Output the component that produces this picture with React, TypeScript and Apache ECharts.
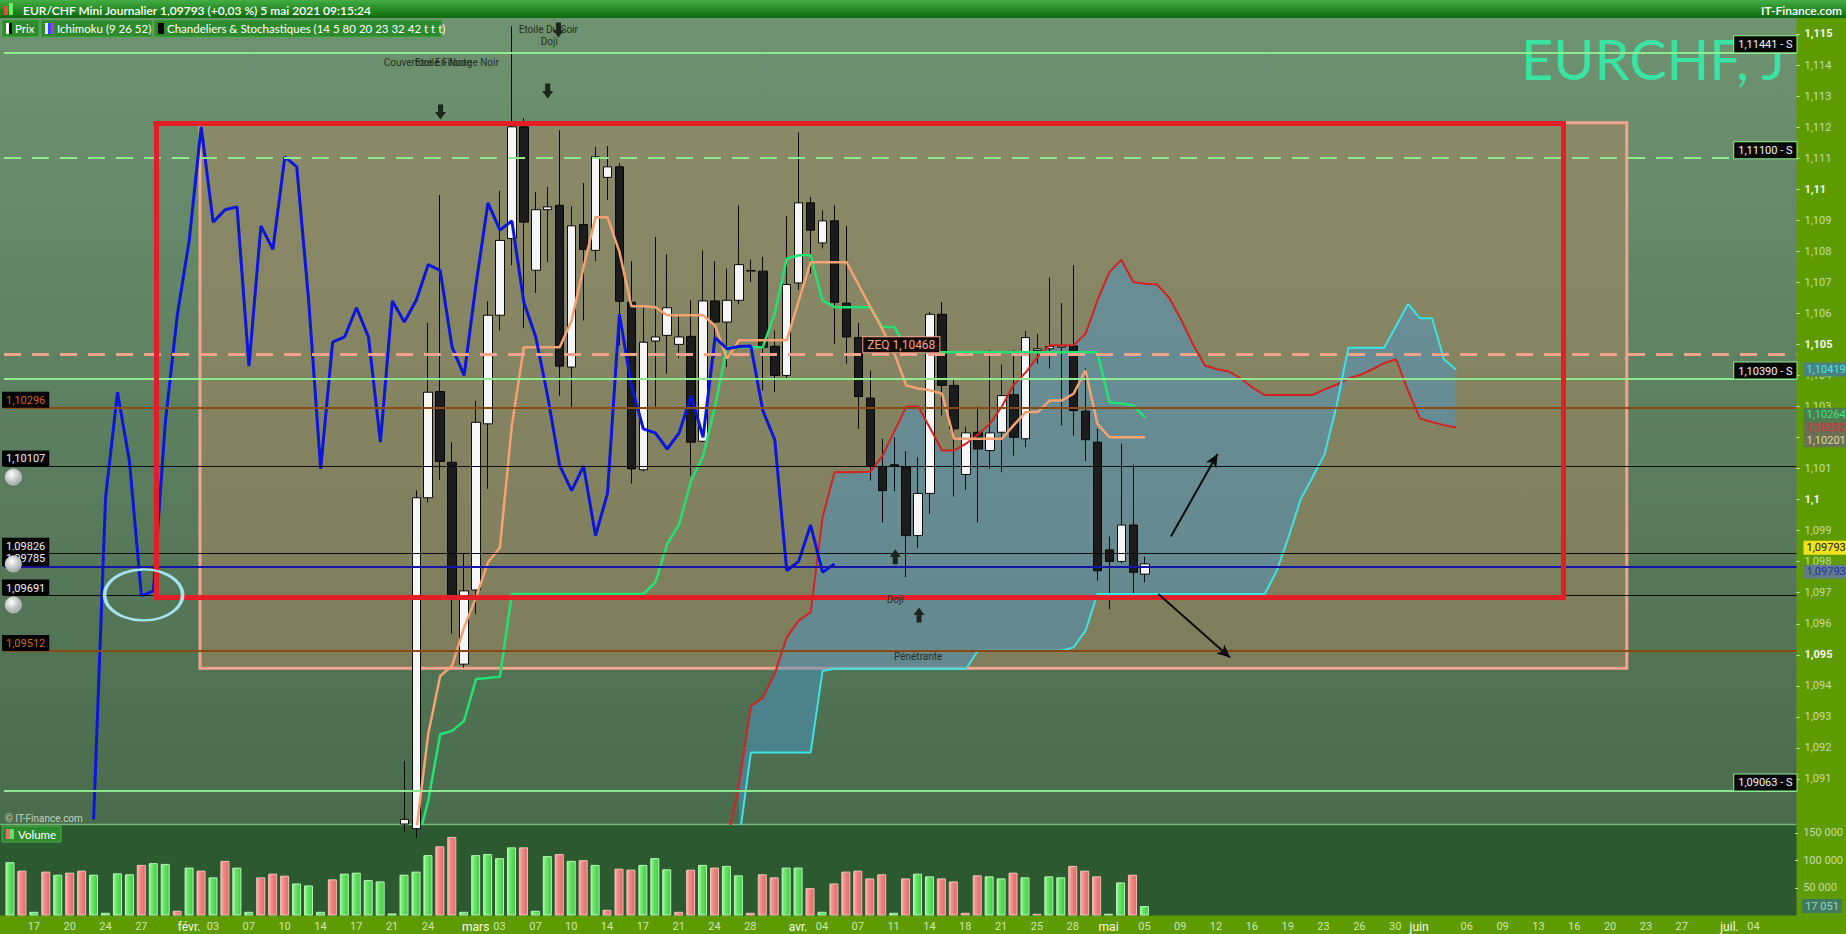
'use client';
import React, { useEffect, useRef } from 'react';
import * as echarts from 'echarts';

// trading days on the axis (Sunday to Friday, Saturdays skipped)
const categories: string[] = [];
for (let t = Date.UTC(2021, 0, 14); t <= Date.UTC(2021, 6, 7); t += 86400000) {
  const d = new Date(t);
  if (d.getUTCDay() !== 6) categories.push(d.toISOString().slice(0, 10));
}

const dateTicks: [string, string][] = [
  ['2021-01-17', '17'], ['2021-01-20', '20'], ['2021-01-24', '24'], ['2021-01-27', '27'],
  ['2021-02-01', 'févr.'], ['2021-02-03', '03'], ['2021-02-07', '07'], ['2021-02-10', '10'], ['2021-02-14', '14'],
  ['2021-02-17', '17'], ['2021-02-21', '21'], ['2021-02-24', '24'],
  ['2021-03-01', 'mars'], ['2021-03-03', '03'], ['2021-03-07', '07'], ['2021-03-10', '10'], ['2021-03-14', '14'],
  ['2021-03-17', '17'], ['2021-03-21', '21'], ['2021-03-24', '24'], ['2021-03-28', '28'],
  ['2021-04-01', 'avr.'], ['2021-04-04', '04'], ['2021-04-07', '07'], ['2021-04-11', '11'], ['2021-04-14', '14'],
  ['2021-04-18', '18'], ['2021-04-21', '21'], ['2021-04-25', '25'], ['2021-04-28', '28'],
  ['2021-05-02', 'mai'], ['2021-05-05', '05'], ['2021-05-09', '09'], ['2021-05-12', '12'], ['2021-05-16', '16'],
  ['2021-05-19', '19'], ['2021-05-23', '23'], ['2021-05-26', '26'], ['2021-05-30', '30'],
  ['2021-06-01', 'juin'], ['2021-06-06', '06'], ['2021-06-09', '09'], ['2021-06-13', '13'], ['2021-06-16', '16'],
  ['2021-06-20', '20'], ['2021-06-23', '23'], ['2021-06-27', '27'],
  ['2021-07-01', 'juil.'], ['2021-07-04', '04'],
];

const priceTicks = [
  1.091, 1.092, 1.093, 1.094, 1.095, 1.096, 1.097, 1.098, 1.099, 1.1, 1.101, 1.102, 1.103,
  1.104, 1.105, 1.106, 1.107, 1.108, 1.109, 1.11, 1.111, 1.112, 1.113, 1.114, 1.115,
];
const volumeTicks = [50000, 100000, 150000];

// daily candles from 22 Feb: open, high, low, close (earlier sessions sit below the visible range)
const candleStart = '2021-02-22';
const ohlc: [number, number, number, number][] = [
  [1.08955, 1.09158, 1.0893, 1.0897], [1.0894, 1.1003, 1.0891, 1.10006], [1.10006, 1.10569, 1.09991, 1.10346],
  [1.10348, 1.10981, 1.10064, 1.10123], [1.1012, 1.10185, 1.09568, 1.0969], [1.0947, 1.09826, 1.09459, 1.09706],
  [1.09709, 1.10319, 1.09632, 1.10249], [1.10244, 1.10639, 1.10035, 1.10594], [1.10594, 1.10995, 1.10545, 1.10835],
  [1.10841, 1.11525, 1.10755, 1.11201], [1.11201, 1.11229, 1.10552, 1.10894], [1.10739, 1.10991, 1.10666, 1.10934],
  [1.10934, 1.11007, 1.10765, 1.10943], [1.10948, 1.1119, 1.10335, 1.1043], [1.10427, 1.10945, 1.103, 1.10882],
  [1.10886, 1.1102, 1.10577, 1.10806], [1.10803, 1.11136, 1.10769, 1.11104], [1.11038, 1.11139, 1.10965, 1.11072],
  [1.11072, 1.11084, 1.10497, 1.10639], [1.10636, 1.10768, 1.10052, 1.10099], [1.10096, 1.1062, 1.10091, 1.10507],
  [1.10511, 1.10846, 1.103, 1.10524], [1.10529, 1.1079, 1.10405, 1.10618], [1.105, 1.10599, 1.10457, 1.10524],
  [1.10526, 1.10642, 1.10077, 1.10185], [1.10188, 1.10803, 1.10185, 1.1064], [1.1064, 1.10768, 1.10459, 1.10572],
  [1.10572, 1.10744, 1.10427, 1.10642], [1.10642, 1.10948, 1.10629, 1.10757], [1.10736, 1.10773, 1.10701, 1.10738],
  [1.10736, 1.10782, 1.10352, 1.10491], [1.10494, 1.10545, 1.10346, 1.104], [1.104, 1.10913, 1.10385, 1.10693],
  [1.10698, 1.11183, 1.10676, 1.10956], [1.10956, 1.10975, 1.10728, 1.10868], [1.10827, 1.10932, 1.10809, 1.10898],
  [1.10898, 1.10948, 1.10502, 1.10636], [1.10633, 1.10881, 1.10438, 1.10524], [1.10522, 1.10569, 1.10228, 1.10332],
  [1.10327, 1.10416, 1.10061, 1.1011], [1.10107, 1.10196, 1.09927, 1.10029], [1.10112, 1.10201, 1.10027, 1.10108],
  [1.10104, 1.10156, 1.0975, 1.09884], [1.09884, 1.10136, 1.09844, 1.1002], [1.1002, 1.10604, 1.09954, 1.10597],
  [1.10597, 1.10636, 1.10271, 1.10368], [1.10368, 1.1039, 1.1001, 1.10228], [1.10081, 1.10235, 1.10031, 1.10215],
  [1.10217, 1.103, 1.09927, 1.10163], [1.10158, 1.10481, 1.10099, 1.10215], [1.10217, 1.10435, 1.10088, 1.10335],
  [1.10338, 1.10481, 1.10142, 1.10201], [1.10196, 1.10543, 1.10169, 1.10522], [1.10481, 1.10534, 1.10438, 1.10486],
  [1.10486, 1.10715, 1.10422, 1.10493], [1.10491, 1.10633, 1.10239, 1.10495], [1.10495, 1.10755, 1.10206, 1.10287],
  [1.10285, 1.10422, 1.10124, 1.10193], [1.10185, 1.10228, 1.09739, 1.09771], [1.09838, 1.09881, 1.09647, 1.09801],
  [1.09801, 1.1018, 1.09795, 1.09918], [1.09918, 1.10113, 1.09696, 1.09766], [1.0976, 1.09816, 1.09733, 1.09793],
];

// Ichimoku (9 26 52)
const ichimokuStart = '2021-02-22';
const tenkan = [
  1.088, 1.0893, 1.09245, 1.09432, 1.09465, 1.09588, 1.09685, 1.09798, 1.09846, 1.1024,
  1.10491, 1.10491, 1.10491, 1.10491, 1.10577, 1.10749, 1.1091, 1.1091, 1.10798, 1.10623,
  1.10623, 1.1062, 1.10594, 1.10594, 1.10594, 1.10594, 1.10561, 1.10454, 1.10513, 1.10513,
  1.10513, 1.10513, 1.10513, 1.1064, 1.10765, 1.10765, 1.10765, 1.10765, 1.10693, 1.1062,
  1.10549, 1.10471, 1.10368, 1.10358, 1.10352, 1.10341, 1.10196, 1.10196, 1.10196, 1.10196,
  1.10196, 1.1024, 1.10282, 1.10282, 1.10319, 1.10319, 1.10341, 1.10416, 1.10244, 1.10201,
  1.10201, 1.10201, 1.10201,
];
const kijun = [
  1.088, 1.0888, 1.0903, 1.09244, 1.09255, 1.09287, 1.09422, 1.09425, 1.09429, 1.09696,
  1.09696, 1.09696, 1.09696, 1.09696, 1.09696, 1.09696, 1.09696, 1.09696, 1.09696, 1.09696,
  1.09696, 1.09733, 1.09857, 1.09921, 1.10061, 1.1014, 1.103, 1.10491, 1.10491, 1.10491,
  1.10491, 1.106, 1.10776, 1.10787, 1.10787, 1.10642, 1.1062, 1.1062, 1.1062, 1.1062,
  1.10556, 1.10556, 1.1049, 1.10475, 1.10475, 1.10475, 1.10475, 1.10475, 1.10475, 1.10475,
  1.10475, 1.10475, 1.10475, 1.10475, 1.10475, 1.10475, 1.10475, 1.10475, 1.10475, 1.10314,
  1.1031, 1.10303, 1.10264,
];
const senkouAStart = '2021-03-25';
const senkouA = [
  1.089, 1.0908, 1.09335, 1.09362, 1.0944, 1.09556, 1.0961, 1.09637, 1.09943, 1.10088,
  1.10088, 1.10089, 1.1009, 1.1014, 1.1022, 1.103, 1.103, 1.1023, 1.10158, 1.10158,
  1.1018, 1.1021, 1.10244, 1.103, 1.1037, 1.1041, 1.1046, 1.10497, 1.10497, 1.10497,
  1.10534, 1.10642, 1.10733, 1.10773, 1.10701, 1.10695, 1.10693, 1.1065, 1.1058, 1.105,
  1.10432, 1.1042, 1.10413, 1.1039, 1.1036, 1.10337, 1.10337, 1.10337, 1.10337, 1.10337,
  1.10355, 1.1037, 1.1039, 1.10402, 1.1042, 1.1044, 1.10452, 1.1035, 1.10261, 1.1025,
  1.1024, 1.10232,
];
const senkouBStart = '2021-03-26';
const senkouB = [
  1.089, 1.09185, 1.09185, 1.09185, 1.09185, 1.09185, 1.09185, 1.09448, 1.09455, 1.09455,
  1.09455, 1.09455, 1.09455, 1.09455, 1.09455, 1.09455, 1.09455, 1.09455, 1.09455, 1.09455,
  1.09513, 1.09513, 1.09513, 1.09513, 1.09513, 1.09513, 1.09513, 1.09513, 1.09524, 1.09577,
  1.09696, 1.09696, 1.09696, 1.09696, 1.09696, 1.09696, 1.09696, 1.09696, 1.09696, 1.09696,
  1.09696, 1.09696, 1.09696, 1.09696, 1.09696, 1.0977, 1.0988, 1.1, 1.10072, 1.10145,
  1.103, 1.10489, 1.10489, 1.10489, 1.10489, 1.1056, 1.1063, 1.10584, 1.10584, 1.10452,
  1.10419,
];

// volume from 14 Jan, g = up day, r = down day
const volumeStart = '2021-01-14';
const volumes = [
  96700, 81400, 6700, 79600, 74000, 77700, 81400, 74000, 4900, 76500,
  74700, 91800, 94900, 93600, 8600, 86900, 81400, 69200, 99100, 86900,
  6700, 69200, 75900, 72200, 58100, 54500, 6700, 65500, 75900, 77700,
  64300, 61800, 3700, 74000, 79600, 109500, 125500, 142600, 6700, 109500,
  111400, 104000, 123600, 123600, 8600, 107700, 111400, 99100, 100400, 91800,
  10400, 85000, 83200, 91800, 104000, 83800, 6700, 83200, 91800, 86900,
  90000, 72800, 4900, 74700, 69200, 86900, 86900, 49600, 6700, 58100,
  79600, 81400, 67300, 74700, 4900, 67300, 75900, 71000, 67300, 61800,
  4900, 72800, 71000, 67300, 77700, 69200, 3100, 71000, 69200, 90000,
  81400, 71000, 3100, 60000, 74000, 17051,
];
const volumeDirs = ('grgrgrrggg' + 'grggrgrgrg' + 'grrrgggrgg' + 'ggggggrrgg' + 'gggrggrgrg' +
  'rrrgggrrgr' + 'ggrrrggrgr' + 'rrrrgrggrr' + 'rrggrgrggr' + 'rrggrg').split('');

// horizontal levels drawn on the chart
const supportLevels = [1.11441, 1.111, 1.1039, 1.09063];
const zeqLevel = 1.10468;
const brownLevels = [1.10296, 1.09512];
const alertLevels = [1.10107, 1.09826, 1.09691];
const blueLevel = 1.09785;

const FONT = 'Roboto, "Noto Sans", sans-serif';
const Y_MIN = 1.08955;
const Y_MAX = 1.115515;

const fmt5 = (v: number) => v.toFixed(5).replace('.', ',');
const fmtTick = (v: number) => String(parseFloat(v.toFixed(3))).replace('.', ',');
const fmtVol = (v: number) => `${Math.floor(v / 1000)} ${String(v % 1000).padStart(3, '0')}`;

function place(start: string, vals: number[]) {
  const out: (number | null)[] = categories.map(() => null);
  const s = categories.indexOf(start);
  vals.forEach((v, i) => { if (s + i < out.length) out[s + i] = v; });
  return out;
}

function buildOption() {
  const tickMap = new Map(dateTicks);
  const cStart = categories.indexOf(candleStart);
  const candles: any[] = categories.map(() => '-');
  ohlc.forEach(([o, h, l, c], i) => { candles[cStart + i] = [o, c, l, h]; });
  const closes = place(candleStart, ohlc.map((c) => c[3]));
  const chikou = categories.map((_, i) => closes[i + 26] ?? null);
  const tk = place(ichimokuStart, tenkan);
  const kj = place(ichimokuStart, kijun);
  const sa = place(senkouAStart, senkouA);
  const sb = place(senkouBStart, senkouB);
  const cloudBase = categories.map((_, i) => (sa[i] != null && sb[i] != null ? Math.min(sa[i]!, sb[i]!) : null));
  const cloudBand = categories.map((_, i) => (sa[i] != null && sb[i] != null ? Math.abs(sa[i]! - sb[i]!) : null));
  const vols = place(volumeStart, volumes);
  const vStart = categories.indexOf(volumeStart);

  const upGrad = new echarts.graphic.LinearGradient(0, 0, 1, 0, [
    { offset: 0, color: '#a4f7a4' }, { offset: 0.35, color: '#68e468' }, { offset: 1, color: '#44c844' },
  ]);
  const dnGrad = new echarts.graphic.LinearGradient(0, 0, 1, 0, [
    { offset: 0, color: '#f8b4b0' }, { offset: 0.35, color: '#f08a86' }, { offset: 1, color: '#dc6a68' },
  ]);

  const lineSeries = (name: string, data: any[], color: string, width: number) => ({
    name, type: 'line', data, xAxisIndex: 0, yAxisIndex: 0, z: 4,
    showSymbol: false, symbol: 'none', connectNulls: false,
    lineStyle: { color, width }, silent: true,
  });

  const greenTag = (t: string) => ({
    show: true, position: 'insideEndTop', distance: [0, 0], formatter: t,
    color: '#f4f4f4', fontSize: 11, fontFamily: FONT, backgroundColor: '#050805',
    borderColor: '#8fea8f', borderWidth: 1, padding: [3, 4, 2, 4],
  });
  const leftTag = (t: string, color: string) => ({
    show: true, position: 'insideStartTop', distance: [-2, 0], formatter: t,
    color, fontSize: 11, fontFamily: FONT, backgroundColor: '#000', padding: [3, 4, 2, 4],
  });
  const axisTag = (v: number, color: string, bg: string, dy: number) => ({
    yAxis: v, lineStyle: { color: 'rgba(0,0,0,0)', width: 0 },
    label: {
      show: true, position: 'end', distance: 7, formatter: fmt5(v), offset: [0, dy],
      color, backgroundColor: bg, fontSize: 11, fontFamily: FONT, padding: [2, 3, 1, 3],
    },
  });

  const levelData: any[] = [
    ...supportLevels.map((v, i) => ({
      yAxis: v, lineStyle: { color: '#8fea8f', width: 2, type: i === 1 ? [17, 11] : 'solid' },
      label: greenTag(fmt5(v) + ' - S'),
    })),
    { yAxis: zeqLevel, lineStyle: { color: '#f2a38e', width: 3, type: [17, 11] }, label: { show: false } },
    ...brownLevels.map((v) => ({ yAxis: v, lineStyle: { color: '#8a4a12', width: 2, type: 'solid' }, label: leftTag(fmt5(v), '#c8681e') })),
    ...alertLevels.map((v) => ({ yAxis: v, lineStyle: { color: '#0c0c0c', width: 1, type: 'solid' }, label: leftTag(fmt5(v), '#f2f2f2') })),
    { yAxis: blueLevel, lineStyle: { color: '#1414a8', width: 2, type: 'solid' }, label: leftTag(fmt5(blueLevel), '#f2f2f2') },
    // last values of the indicators, shown on the price scale
    axisTag(senkouA[senkouA.length - 1], '#d83030', '#6a6e52', 0),
    axisTag(senkouB[senkouB.length - 1], '#48e6e6', '#4a8282', 0),
    axisTag(kijun[kijun.length - 1], '#3ee878', '#4e7c50', -3),
    axisTag(tenkan[tenkan.length - 1], '#e2d2a8', '#6a7052', 3),
    axisTag(ohlc[ohlc.length - 1][3], '#1a1a1a', '#f2e21e', -16),
    axisTag(ohlc[ohlc.length - 1][3], '#2030c8', '#627c84', 8),
  ];

  const DOWN = 'path://M3,0L8,0L8,7L11,7L5.5,14L0,7L3,7Z';
  const UP = 'path://M5.5,0L11,7L8,7L8,14L3,14L3,7L0,7Z';
  const arrowPt = (coord: number[], up: boolean) => ({
    coord, symbol: up ? UP : DOWN, symbolSize: [11, 15], itemStyle: { color: '#1c251c' },
  });
  const textPt = (coord: number[], t: string) => ({
    coord, symbol: 'rect', symbolSize: 1, itemStyle: { color: 'rgba(0,0,0,0)' },
    label: { show: true, position: 'inside', formatter: t, color: '#253025', fontSize: 10, fontFamily: FONT },
  });
  const bell = new echarts.graphic.RadialGradient(0.4, 0.35, 0.7, [
    { offset: 0, color: '#ffffff' }, { offset: 1, color: '#9aa0a0' },
  ]);
  const bellPt = (coord: number[]) => ({
    coord, symbol: 'circle', symbolSize: 16, itemStyle: { color: bell, borderColor: '#c8cccc', borderWidth: 1 },
  });
  const red = { color: '#e41e26', width: 5, type: 'solid', cap: 'square' };
  const seg = (a: number[], b: number[], ls: any, endSym = 'none') => [
    { coord: a, lineStyle: ls }, { coord: b, lineStyle: ls, symbol: endSym, symbolSize: [9, 13] },
  ];
  const blackArrow = { color: '#0c0c0c', width: 2, type: 'solid' };

  const legendBox = (x: number, w: number, text: string, icons: string[]) => [
    { type: 'rect', z: 100, shape: { x, y: 20, width: w, height: 17 }, style: { fill: '#2d8a2d', stroke: '#4caa4c', lineWidth: 1 } },
    ...icons.map((c, i) => ({ type: 'rect', z: 101, shape: { x: x + 4 + i * 3, y: 23, width: 3, height: 11 }, style: { fill: c } })),
    { type: 'text', z: 101, x: x + 7 + icons.length * 3, y: 28.5, style: { text, fill: '#ffffff', font: '11.5px Lato', verticalAlign: 'middle' } },
  ];

  return {
    animation: false,
    backgroundColor: '#5e9b00',
    textStyle: { fontFamily: FONT },
    grid: [
      { left: 4, right: 49.5, top: 18, height: 806 },
      { left: 4, right: 49.5, top: 824, height: 91.5 },
    ],
    xAxis: [
      { type: 'category', gridIndex: 0, data: categories, boundaryGap: true, show: false },
      {
        type: 'category', gridIndex: 1, data: categories, boundaryGap: true,
        axisLine: { show: false }, axisTick: { show: false }, splitLine: { show: false },
        axisLabel: {
          interval: (_i: number, v: string) => tickMap.has(v),
          formatter: (v: string) => {
            const t = tickMap.get(v) || '';
            return /^[a-z]/.test(t) ? `{m|${t}}` : `{d|${t}}`;
          },
          margin: 5,
          rich: {
            d: { color: '#cfe5b2', fontSize: 11, fontFamily: FONT },
            m: { color: '#f6fbec', fontSize: 12, fontFamily: FONT },
          },
        },
      },
      { type: 'value', gridIndex: 0, min: -0.5, max: categories.length - 0.5, show: false },
    ],
    yAxis: [
      {
        type: 'value', gridIndex: 0, position: 'right', min: Y_MIN, max: Y_MAX, scale: true,
        splitLine: { show: false }, axisLine: { show: false, onZero: false },
        axisTick: { show: true, length: 3, customValues: priceTicks, lineStyle: { color: '#cde3ae' } },
        axisLabel: {
          customValues: priceTicks, margin: 8,
          formatter: (v: number) => {
            const s = fmtTick(v);
            return Math.round(v * 1000) % 5 === 0 ? `{b|${s}}` : `{n|${s}}`;
          },
          rich: {
            b: { color: '#f4faec', fontSize: 11, fontWeight: 'bold', fontFamily: FONT },
            n: { color: '#c4dca8', fontSize: 11, fontFamily: FONT },
          },
        },
      },
      {
        type: 'value', gridIndex: 1, position: 'right', min: 0, max: 166000,
        splitLine: { show: false }, axisLine: { show: false, onZero: false },
        axisTick: { show: true, length: 3, customValues: volumeTicks, lineStyle: { color: '#cde3ae' } },
        axisLabel: { customValues: volumeTicks, margin: 8, color: '#c4dca8', fontSize: 11, formatter: (v: number) => fmtVol(v) },
      },
    ],
    graphic: [
      {
        type: 'rect', z: 0, silent: true, shape: { x: 0, y: 18, width: 1796.5, height: 806 },
        style: { fill: new echarts.graphic.LinearGradient(0, 0, 0, 1, [{ offset: 0, color: '#6f9271' }, { offset: 1, color: '#4a6c4d' }]) },
      },
      { type: 'rect', z: 0, silent: true, shape: { x: 0, y: 824, width: 1796.5, height: 91.5 }, style: { fill: '#2c5930' } },
      { type: 'line', z: 1, silent: true, shape: { x1: 0, y1: 824.5, x2: 1796.5, y2: 824.5 }, style: { stroke: '#78b87a', lineWidth: 1.5 } },
      { type: 'text', z: 1, silent: true, x: 1785, y: 58.5, style: { text: 'EURCHF, J', fill: '#38e3a4', font: '56px Lato', align: 'right', verticalAlign: 'middle' } },
      {
        type: 'rect', z: 100, shape: { x: 0, y: 0, width: 1846, height: 18 },
        style: { fill: new echarts.graphic.LinearGradient(0, 0, 0, 1, [{ offset: 0, color: '#44ae44' }, { offset: 1, color: '#0c690c' }]) },
      },
      { type: 'rect', z: 101, shape: { x: 4, y: 6, width: 4, height: 9 }, style: { fill: '#e0503c' } },
      { type: 'rect', z: 101, shape: { x: 9, y: 3, width: 4, height: 12 }, style: { fill: '#66f266' } },
      { type: 'text', z: 101, x: 23, y: 10, style: { text: 'EUR/CHF Mini Journalier 1,09793 (+0,03 %) 5 mai 2021 09:15:24', fill: '#ffffff', font: '600 12px Lato', verticalAlign: 'middle' } },
      { type: 'text', z: 101, x: 1842, y: 10, style: { text: 'IT-Finance.com', fill: '#ffffff', font: '600 12px Lato', align: 'right', verticalAlign: 'middle' } },
      ...legendBox(2, 37, 'Prix', ['#ffffff', '#101010']),
      ...legendBox(41, 111, 'Ichimoku (9 26 52)', ['#e8e8ff', '#3048ff', '#b040c0']),
      ...legendBox(154, 288, 'Chandeliers & Stochastiques (14 5 80 20 23 32 42 t t t)', ['#050505', '#050505']),
      { type: 'text', z: 100, x: 5, y: 818, style: { text: '© IT-Finance.com', fill: 'rgba(225,236,225,0.8)', font: '10px Roboto', verticalAlign: 'middle' } },
      { type: 'rect', z: 100, shape: { x: 2, y: 826, width: 59, height: 16 }, style: { fill: '#2d8a2d', stroke: '#4caa4c', lineWidth: 1 } },
      { type: 'rect', z: 101, shape: { x: 6, y: 829, width: 4, height: 10 }, style: { fill: '#ee7070' } },
      { type: 'rect', z: 101, shape: { x: 10, y: 829, width: 4, height: 10 }, style: { fill: '#66e066' } },
      { type: 'text', z: 101, x: 18, y: 834, style: { text: 'Volume', fill: '#ffffff', font: '11.5px Lato', verticalAlign: 'middle' } },
    ],
    series: [
      {
        name: 'zones', type: 'line', xAxisIndex: 2, yAxisIndex: 0, data: [], silent: true,
        markArea: {
          silent: true, z: 1,
          itemStyle: { color: 'rgba(172,136,100,0.5)', borderColor: '#f2a48e', borderWidth: 3 },
          data: [[{ coord: [15.9, 1.11214] }, { coord: [135.3, 1.09457] }]],
        },
      },
      {
        name: 'cloudBase', type: 'line', data: cloudBase, xAxisIndex: 0, yAxisIndex: 0, stack: 'cloud', z: 2,
        showSymbol: false, symbol: 'none', lineStyle: { width: 0, color: 'rgba(0,0,0,0)' }, silent: true,
      },
      {
        name: 'cloudBand', type: 'line', data: cloudBand, xAxisIndex: 0, yAxisIndex: 0, stack: 'cloud', z: 2,
        showSymbol: false, symbol: 'none', lineStyle: { width: 0, color: 'rgba(0,0,0,0)' }, silent: true,
        areaStyle: { color: 'rgba(74,148,196,0.5)', opacity: 1 },
      },
      {
        name: 'Prix', type: 'candlestick', data: candles, xAxisIndex: 0, yAxisIndex: 0, z: 3, barWidth: 9, silent: true,
        itemStyle: { color: '#f6f6f6', color0: '#1c1c1c', borderColor: '#0a0a0a', borderColor0: '#050505', borderWidth: 1 },
      },
      lineSeries('Senkou A', sa, '#d42222', 2),
      lineSeries('Senkou B', sb, '#3ee2e2', 2),
      lineSeries('Kijun', kj, '#22e272', 2.5),
      lineSeries('Tenkan', tk, '#f4a272', 2.5),
      lineSeries('Chikou', chikou, '#0a16dc', 3),
      {
        name: 'levels', type: 'line', xAxisIndex: 0, yAxisIndex: 0, data: [], clip: false, silent: true,
        markLine: { silent: true, precision: 6, symbol: ['none', 'none'], animation: false, data: levelData },
      },
      {
        name: 'annotations', type: 'line', xAxisIndex: 2, yAxisIndex: 0, data: [], clip: false, silent: true,
        markLine: {
          silent: true, precision: 6, symbol: ['none', 'none'], label: { show: false },
          data: [
            seg([12.2, 1.11212], [130, 1.11212], red),
            seg([130, 1.11212], [130, 1.09684], red),
            seg([130, 1.09684], [12.2, 1.09684], red),
            seg([12.2, 1.09684], [12.2, 1.11212], red),
            seg([97.15, 1.09881], [101.05, 1.10147], blackArrow, 'arrow'),
            seg([96.1, 1.09696], [102.1, 1.09491], blackArrow, 'arrow'),
          ],
        },
        markPoint: {
          silent: true, precision: 6, z: 8, label: { show: false },
          data: [
            arrowPt([36.03, 1.11249], false),
            arrowPt([45.0, 1.11316], false),
            arrowPt([45.9, 1.11513], false),
            arrowPt([74.08, 1.09816], true),
            arrowPt([76.07, 1.09628], true),
            textPt([36.09, 1.11407], 'Couverture En Nuage Noir'),
            textPt([36.26, 1.11407], 'Etoile Filante'),
            textPt([45.05, 1.11516], 'Etoile Du Soir'),
            textPt([45.13, 1.11476], 'Doji'),
            textPt([74.08, 1.09677], 'Doji'),
            textPt([76.0, 1.09496], 'Pénétrante'),
            {
              coord: [74.59, zeqLevel], symbol: 'rect', symbolSize: 1, itemStyle: { color: 'rgba(0,0,0,0)' },
              label: {
                show: true, position: 'inside', offset: [0, -9.5], formatter: 'ZEQ ' + fmt5(zeqLevel),
                color: '#f2a890', backgroundColor: '#140a06', borderColor: '#f2a48e', borderWidth: 1,
                fontSize: 12, fontFamily: FONT, padding: [2, 4, 1, 4],
              },
            },
            {
              coord: [11.18, 1.09693], symbol: 'circle', symbolSize: [78, 51],
              itemStyle: { color: 'rgba(0,0,0,0)', borderColor: '#a6e2f0', borderWidth: 3 },
            },
            bellPt([0.28, 1.10073]),
            bellPt([0.28, 1.09793]),
            bellPt([0.28, 1.09661]),
          ],
        },
      },
      {
        name: 'Volume', type: 'bar', xAxisIndex: 1, yAxisIndex: 1, barWidth: 9, clip: false, silent: true,
        data: vols.map((v, i) =>
          v == null ? '-' : {
            value: v,
            itemStyle: volumeDirs[i - vStart] === 'g'
              ? { color: upGrad, borderColor: '#b4fab4', borderWidth: 1 }
              : { color: dnGrad, borderColor: '#f6c0b8', borderWidth: 1 },
          }),
        markLine: {
          silent: true, precision: 0, symbol: ['none', 'none'],
          data: [{
            yAxis: volumes[volumes.length - 1], lineStyle: { color: 'rgba(0,0,0,0)', width: 0 },
            label: {
              show: true, position: 'end', distance: 7, formatter: fmtVol(volumes[volumes.length - 1]),
              color: '#9cd0c0', backgroundColor: '#3e7a62', fontSize: 11, fontFamily: FONT, padding: [2, 3, 1, 3],
            },
          }],
        },
      },
    ],
  };
}

export default function App() {
  const ref = useRef<HTMLDivElement>(null);

  useEffect(() => {
    if (!ref.current) return;
    const chart = echarts.init(ref.current, undefined, { renderer: 'svg' });
    chart.setOption(buildOption() as any);
    return () => chart.dispose();
  }, []);

  return <div ref={ref} style={{ position: 'fixed', left: 0, top: 0, width: 1846, height: 934 }} />;
}
